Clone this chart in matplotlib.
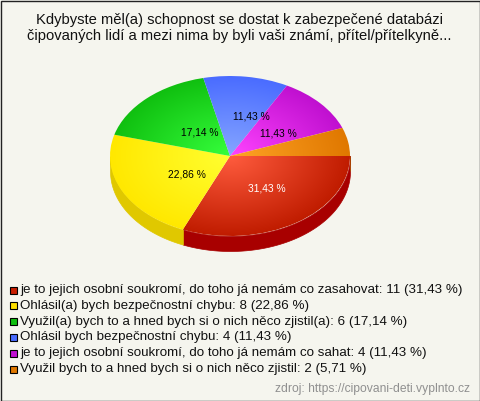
import matplotlib
matplotlib.use("Agg")
import matplotlib.pyplot as plt
from matplotlib.colors import LinearSegmentedColormap
from matplotlib.patches import Rectangle
import numpy as np

plt.rcParams['font.family'] = ['Liberation Sans', 'DejaVu Sans']

##### Data #####
title_lines = ["Kdybyste měl(a) schopnost se dostat k zabezpečené databázi",
               "čipovaných lidí a mezi nima by byli vaši známí, přítel/přítelkyně..."]
categories = ["je to jejich osobní soukromí, do toho já nemám co zasahovat",
              "Ohlásil(a) bych bezpečnostní chybu",
              "Využil(a) bych to a hned bych si o nich něco zjistil(a)",
              "Ohlásil bych bezpečnostní chybu",
              "je to jejich osobní soukromí, do toho já nemám co sahat",
              "Využil bych to a hned bych si o nich něco zjistil"]
counts = [11, 8, 6, 4, 4, 2]
percents = ["31,43", "22,86", "17,14", "11,43", "11,43", "5,71"]
source_text = "zdroj: https://cipovani-deti.vyplnto.cz"

##### Styles #####
inner_colors = ["#ff5c3e", "#ffff30", "#36ff3c", "#86a6ff", "#ff44ff", "#ffa426"]
outer_colors = ["#c01c00", "#ffe800", "#10c010", "#4a6cff", "#c010d0", "#e07800"]
side_colors = ["#a80000", "#e0c800", "#0c900c", "#3850c0", "#900c9c", "#a85a00"]
swatch_colors = ["#c81e00", "#ffe000", "#10c010", "#4a6cff", "#c010d0", "#e07800"]
label_colors = ["white", "black", "black", "black", "black", None]
# pixel nudges of the slice labels
label_nudge = [(4, -1), (11, 1), (11, 5), (13, 0), (3, 4), (0, 0)]

BG = "#f5f5ee"
W, H = 480, 401
DEPTH = 15 / 80

fig = plt.figure(figsize=(W / 100, H / 100), dpi=100, facecolor=BG)

# overlay in pixel coordinates for the texts
over = fig.add_axes([0, 0, 1, 1], zorder=3)
over.set_xlim(0, W)
over.set_ylim(H, 0)
over.axis("off")

# pie axes, flattened ellipse
ax = fig.add_axes([110 / W, 1 - 236 / H, 240 / W, 160 / H], zorder=2)
wedges, _ = ax.pie(counts, startangle=0, counterclock=False, radius=1, center=(0, 0))
ax.set_aspect("auto")
ax.set_xlim(-1, 1)
ax.set_ylim(-1, 1)
ax.axis("off")

# side of the pie
for w, col in zip(wedges, side_colors):
    t1, t2 = w.theta1, w.theta2
    t = np.radians(np.linspace(t1, t2, 200))
    x = np.cos(t)
    y = np.sin(t)
    m = y <= 0
    if m.any():
        ax.fill_between(x[m], y[m] - DEPTH, y[m], color=col, lw=0.5, clip_on=False, zorder=1)

# radial gradient per wedge
yy, xx = np.mgrid[-1:1:300j, -1:1:300j]
rr = np.clip(np.hypot(xx, yy), 0, 1)
for w, c0, c1 in zip(wedges, inner_colors, outer_colors):
    cmap = LinearSegmentedColormap.from_list("g", [c0, c1])
    w.set_visible(False)
    im = ax.imshow(rr, extent=(-1, 1, -1, 1), origin="lower", cmap=cmap, vmin=0, vmax=1,
                   aspect="auto", zorder=2, interpolation="bilinear")
    im.set_clip_path(w.get_path(), transform=ax.transData)
ax.set_xlim(-1, 1)
ax.set_ylim(-1, 1)

# slice labels
for w, pct, col, nudge in zip(wedges, percents, label_colors, label_nudge):
    if col is None:
        continue
    mid = np.radians((w.theta1 + w.theta2) / 2)
    px = 230 + 0.5 * 120 * np.cos(mid) + nudge[0]
    py = 156 - 0.5 * 80 * np.sin(mid) + nudge[1]
    over.text(px, py, pct + " %", color=col, fontsize=7.4, ha="center", va="center")

# title
for i, line in enumerate(title_lines):
    over.text(239, 20 + i * 16, line, fontsize=10.65, ha="center", va="center", color="#111111")

# legend
for i, (cat, n, pct, sw) in enumerate(zip(categories, counts, percents, swatch_colors)):
    y = 290 + i * 15.8
    over.add_patch(Rectangle((10, y - 3.5), 6.5, 7, fc=sw, ec="black", lw=0.8))
    over.text(20, y, "%s: %d (%s %%)" % (cat, n, pct), fontsize=9.66, ha="left", va="center", color="#111111")

over.text(470, 389, source_text, fontsize=8.7, ha="right", va="center", color="#909090")

# frame
over.add_patch(Rectangle((0.5, 0.5), W - 1, H - 1, fc="none", ec="#222222", lw=1, clip_on=False))

fig.savefig("out.png", dpi=100, facecolor=BG)
